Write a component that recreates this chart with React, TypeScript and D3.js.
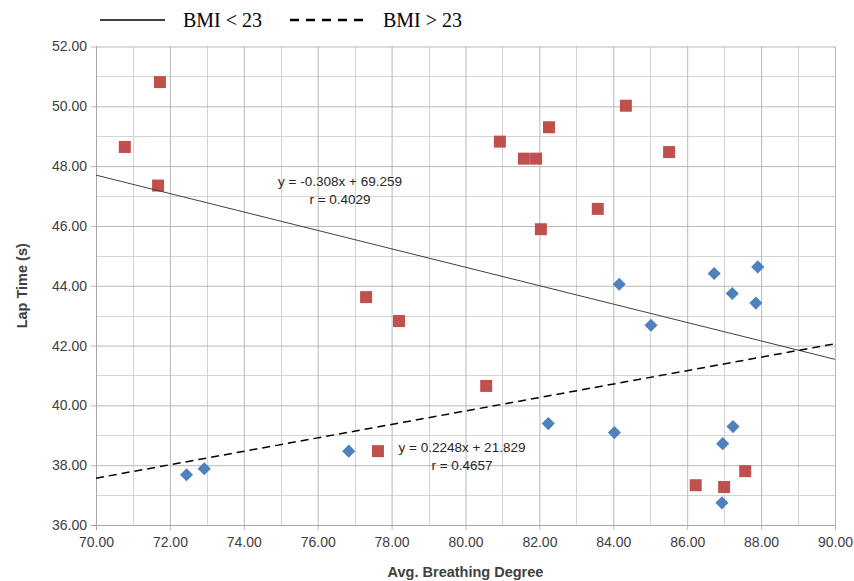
import { useEffect, useRef } from "react";
import * as d3 from "d3";

// BMI < 23 (red squares)
const redX = [70.78, 71.73, 71.68, 77.31, 78.2, 77.63, 80.56, 80.93, 81.58, 81.91, 82.26, 82.04, 84.34, 83.58, 85.51, 86.23, 87.0, 87.57];
const redY = [48.64, 50.81, 47.35, 43.62, 42.82, 38.47, 40.65, 48.82, 48.25, 48.25, 49.3, 45.89, 50.02, 46.57, 48.47, 37.33, 37.27, 37.8];

// BMI > 23 (blue diamonds)
const blueX = [72.45, 72.93, 76.84, 82.24, 84.03, 84.16, 85.02, 86.73, 87.91, 87.22, 87.86, 87.24, 86.96, 86.94];
const blueY = [37.68, 37.88, 38.47, 39.39, 39.09, 44.05, 42.68, 44.41, 44.63, 43.74, 43.42, 39.29, 38.72, 36.74];

// trend lines: [slope, intercept]
const fitLow = [-0.308, 69.259];
const fitHigh = [0.2248, 21.829];

const xTicks = [70, 72, 74, 76, 78, 80, 82, 84, 86, 88, 90];
const yTicks = [36, 38, 40, 42, 44, 46, 48, 50, 52];
const xMinor = [71, 73, 75, 77, 79, 81, 83, 85, 87, 89];
const yMinor = [37, 39, 41, 43, 45, 47, 49, 51];

const App = () => {
    const container = useRef<HTMLDivElement>(null);

    useEffect(() => {
        const el = container.current;
        if (!el) return;
        el.innerHTML = "";

        const W = 854, H = 581;
        const left = 96, right = 835, top = 46.5, bottom = 525;
        const font = "'Liberation Sans', Arial, sans-serif";

        const svg = d3.select(el).append("svg")
            .attr("width", W)
            .attr("height", H)
            .style("display", "block")
            .style("background", "#fff");

        const x = d3.scaleLinear().domain([70, 90]).range([left, right]);
        const y = d3.scaleLinear().domain([36, 52]).range([bottom, top]);
        const px = (v: number) => Math.round(x(v)) + 0.5;
        const py = (v: number) => Math.round(y(v)) + 0.5;

        const grid = svg.append("g").attr("stroke", "#d4d4d4").attr("stroke-width", 1);
        grid.selectAll("line.vx")
            .data(xMinor)
            .join("line")
            .attr("x1", px).attr("x2", px).attr("y1", y(52)).attr("y2", y(36));
        grid.selectAll("line.hy")
            .data(yMinor)
            .join("line")
            .attr("y1", py).attr("y2", py).attr("x1", x(70)).attr("x2", x(90));

        // major grid + axes
        const xAxis = svg.append("g")
            .attr("transform", `translate(0,${bottom})`)
            .call(d3.axisBottom(x).tickValues(xTicks).tickFormat(d3.format(".2f")).tickSize(-(bottom - top)).tickPadding(12));
        xAxis.select(".domain").remove();
        xAxis.selectAll("line").attr("stroke", "#b8b8b8").attr("y2", -(bottom - top)).attr("y1", 5);
        xAxis.selectAll("text").attr("fill", "#404040").style("font-family", font).style("font-size", "14px");

        const yAxis = svg.append("g")
            .attr("transform", `translate(${left},0)`)
            .call(d3.axisLeft(y).tickValues(yTicks).tickFormat(d3.format(".2f")).tickSize(-(right - left)).tickPadding(9));
        yAxis.select(".domain").remove();
        yAxis.selectAll("line").attr("stroke", "#b8b8b8").attr("x2", right - left).attr("x1", -5);
        yAxis.selectAll("text").attr("fill", "#404040").style("font-family", font).style("font-size", "14px");

        // axis lines
        svg.append("line").attr("x1", left + 0.5).attr("x2", left + 0.5).attr("y1", top).attr("y2", bottom + 5).attr("stroke", "#a6a6a6");
        svg.append("line").attr("x1", left - 5).attr("x2", right).attr("y1", bottom + 0.5).attr("y2", bottom + 0.5).attr("stroke", "#a6a6a6");

        // markers
        svg.selectAll("rect.red")
            .data(redX)
            .join("rect")
            .attr("class", "red")
            .attr("x", (d) => x(d) - 6)
            .attr("y", (d, i) => y(redY[i]) - 6)
            .attr("width", 12)
            .attr("height", 12)
            .attr("fill", "#c0504d");

        const diamond = d3.symbol().type(d3.symbolDiamond2).size(110);
        svg.selectAll("path.blue")
            .data(blueX)
            .join("path")
            .attr("class", "blue")
            .attr("d", diamond)
            .attr("transform", (d, i) => `translate(${x(d)},${y(blueY[i])})`)
            .attr("fill", "#4f81bd");

        // trend lines
        svg.append("path")
            .attr("d", d3.line()([[x(70), y(fitLow[0] * 70 + fitLow[1])], [x(90), y(fitLow[0] * 90 + fitLow[1])]]))
            .attr("stroke", "#404040").attr("stroke-width", 1).attr("fill", "none");
        svg.append("path")
            .attr("d", d3.line()([[x(70), y(fitHigh[0] * 70 + fitHigh[1])], [x(90), y(fitHigh[0] * 90 + fitHigh[1])]]))
            .attr("stroke", "#000").attr("stroke-width", 1.5).attr("stroke-dasharray", "8,5").attr("fill", "none");

        const ann = (tx: number, ty: number, t: string) =>
            svg.append("text").attr("x", tx).attr("y", ty).attr("text-anchor", "middle")
                .style("font-family", font).style("font-size", "13.5px").attr("fill", "#262626").text(t);
        ann(340, 186, "y = -0.308x + 69.259");
        ann(340, 204, "r = 0.4029");
        ann(462, 452, "y = 0.2248x + 21.829");
        ann(462, 470, "r = 0.4657");

        // axis titles
        svg.append("text")
            .attr("x", (left + right) / 2).attr("y", 577).attr("text-anchor", "middle")
            .style("font-family", font).style("font-size", "14.5px").style("font-weight", "bold").attr("fill", "#404040")
            .text("Avg. Breathing Degree");
        svg.append("text")
            .attr("transform", `translate(27,${(top + bottom) / 2}) rotate(-90)`).attr("text-anchor", "middle")
            .style("font-family", font).style("font-size", "14.5px").style("font-weight", "bold").attr("fill", "#404040")
            .text("Lap Time (s)");

        // legend
        const serif = "'Liberation Serif', 'Times New Roman', serif";
        const lg = svg.append("g");
        lg.append("line").attr("x1", 100).attr("x2", 165).attr("y1", 20).attr("y2", 20).attr("stroke", "#000").attr("stroke-width", 1.5);
        lg.append("text").attr("x", 183).attr("y", 27).style("font-family", serif).style("font-size", "20px").text("BMI < 23");
        lg.append("line").attr("x1", 290).attr("x2", 365).attr("y1", 20).attr("y2", 20).attr("stroke", "#000").attr("stroke-width", 2.5).attr("stroke-dasharray", "9,7");
        lg.append("text").attr("x", 383).attr("y", 27).style("font-family", serif).style("font-size", "20px").text("BMI > 23");
    }, []);

    return <div ref={container} style={{ position: "absolute", left: 0, top: 0 }}></div>;
};

export default App;
